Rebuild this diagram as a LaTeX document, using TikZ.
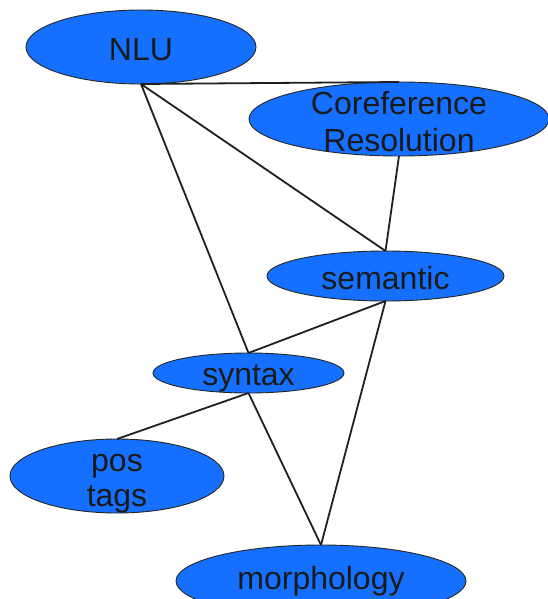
\documentclass[tikz,border=0pt]{standalone}
\usepackage{fontspec}
\setmainfont{Liberation Sans}
\usetikzlibrary{shapes.geometric}
\definecolor{nodeblue}{RGB}{22,112,255}
\definecolor{txt}{RGB}{26,26,26}
\tikzset{
  blob/.style={ellipse, draw=black!85, line width=0.9pt, fill=nodeblue, inner sep=0pt, outer sep=0pt},
  word/.style={text=txt, anchor=base, inner sep=0pt, font=\fontsize{32}{36}\selectfont},
  link/.style={draw=black!88, line width=1.8pt},
}
\begin{document}
\begin{tikzpicture}[x=1pt, y=-1pt]
\useasboundingbox (0,0) rectangle (548,599);
\node[blob, minimum width=230pt, minimum height=74pt] (nlu) at (141,47) {};
\node[blob, minimum width=300pt, minimum height=74pt] (coref) at (399,119) {};
\node[blob, minimum width=237pt, minimum height=50pt] (sem) at (385.5,276) {};
\node[blob, minimum width=191pt, minimum height=40pt] (syn) at (248.5,373) {};
\node[blob, minimum width=214pt, minimum height=74pt] (pos) at (117,476) {};
\node[blob, minimum width=290pt, minimum height=72pt] (morph) at (321,581) {};
\node[word] (tnlu) at (141,61) {NLU};
\node[word] (tcoref1) at (399,114) {Coreference};
\node[word] (tcoref2) at (399,151.5) {Resolution};
\node[word] (tsem) at (385.5,289) {semantic};
\node[word] (tsyn) at (248.5,385) {syntax};
\node[word] (tpos1) at (117,471) {pos};
\node[word] (tpos2) at (117,506.5) {tags};
\node[word] (tmorph) at (321,589.5) {morphology};
\draw[link] (nlu.south) -- (coref.north);
\draw[link] (nlu.south) -- (sem.north);
\draw[link] (nlu.south) -- (syn.north);
\draw[link] (coref.south) -- (sem.north);
\draw[link] (sem.south) -- (syn.north);
\draw[link] (sem.south) -- (morph.north);
\draw[link] (syn.south) -- (pos.north);
\draw[link] (syn.south) -- (morph.north);
\end{tikzpicture}
\end{document}
